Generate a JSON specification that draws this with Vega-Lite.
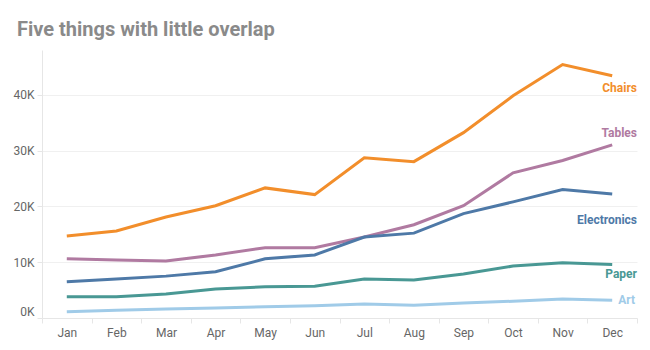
{
  "$schema": "https://vega.github.io/schema/vega-lite/v6.json",
  "width": 595,
  "height": 268,
  "autosize": {"type": "none"},
  "padding": {"left": 42, "top": 50, "right": 13, "bottom": 32},
  "background": "white",
  "config": {
    "font": "Roboto",
    "view": {"stroke": null},
    "axis": {"labelFont": "Roboto", "labelFontSize": 12, "labelColor": "#666666", "title": null, "domainColor": "#e6e6e6", "tickColor": "#e6e6e6", "gridColor": "#f0f0f0"}
  },
  "title": {"text": "Five things with little overlap", "anchor": "start", "dx": 4, "fontSize": 20, "fontWeight": "bold", "color": "#8a8a8a", "font": "Roboto", "offset": 10},
  "data": {"values": [
    {"month": "Jan", "item": "Chairs", "sales": 14700},
    {"month": "Feb", "item": "Chairs", "sales": 15600},
    {"month": "Mar", "item": "Chairs", "sales": 18100},
    {"month": "Apr", "item": "Chairs", "sales": 20100},
    {"month": "May", "item": "Chairs", "sales": 23300},
    {"month": "Jun", "item": "Chairs", "sales": 22100},
    {"month": "Jul", "item": "Chairs", "sales": 28700},
    {"month": "Aug", "item": "Chairs", "sales": 28000},
    {"month": "Sep", "item": "Chairs", "sales": 33200},
    {"month": "Oct", "item": "Chairs", "sales": 39800},
    {"month": "Nov", "item": "Chairs", "sales": 45400},
    {"month": "Dec", "item": "Chairs", "sales": 43400},
    {"month": "Jan", "item": "Tables", "sales": 10600},
    {"month": "Feb", "item": "Tables", "sales": 10400},
    {"month": "Mar", "item": "Tables", "sales": 10200},
    {"month": "Apr", "item": "Tables", "sales": 11300},
    {"month": "May", "item": "Tables", "sales": 12600},
    {"month": "Jun", "item": "Tables", "sales": 12600},
    {"month": "Jul", "item": "Tables", "sales": 14500},
    {"month": "Aug", "item": "Tables", "sales": 16700},
    {"month": "Sep", "item": "Tables", "sales": 20100},
    {"month": "Oct", "item": "Tables", "sales": 26000},
    {"month": "Nov", "item": "Tables", "sales": 28200},
    {"month": "Dec", "item": "Tables", "sales": 31000},
    {"month": "Jan", "item": "Electronics", "sales": 6500},
    {"month": "Feb", "item": "Electronics", "sales": 7000},
    {"month": "Mar", "item": "Electronics", "sales": 7500},
    {"month": "Apr", "item": "Electronics", "sales": 8300},
    {"month": "May", "item": "Electronics", "sales": 10600},
    {"month": "Jun", "item": "Electronics", "sales": 11300},
    {"month": "Jul", "item": "Electronics", "sales": 14500},
    {"month": "Aug", "item": "Electronics", "sales": 15200},
    {"month": "Sep", "item": "Electronics", "sales": 18700},
    {"month": "Oct", "item": "Electronics", "sales": 20800},
    {"month": "Nov", "item": "Electronics", "sales": 23000},
    {"month": "Dec", "item": "Electronics", "sales": 22200},
    {"month": "Jan", "item": "Paper", "sales": 3800},
    {"month": "Feb", "item": "Paper", "sales": 3800},
    {"month": "Mar", "item": "Paper", "sales": 4300},
    {"month": "Apr", "item": "Paper", "sales": 5200},
    {"month": "May", "item": "Paper", "sales": 5600},
    {"month": "Jun", "item": "Paper", "sales": 5700},
    {"month": "Jul", "item": "Paper", "sales": 7000},
    {"month": "Aug", "item": "Paper", "sales": 6800},
    {"month": "Sep", "item": "Paper", "sales": 7900},
    {"month": "Oct", "item": "Paper", "sales": 9300},
    {"month": "Nov", "item": "Paper", "sales": 9900},
    {"month": "Dec", "item": "Paper", "sales": 9600},
    {"month": "Jan", "item": "Art", "sales": 1100},
    {"month": "Feb", "item": "Art", "sales": 1400},
    {"month": "Mar", "item": "Art", "sales": 1600},
    {"month": "Apr", "item": "Art", "sales": 1800},
    {"month": "May", "item": "Art", "sales": 2000},
    {"month": "Jun", "item": "Art", "sales": 2200},
    {"month": "Jul", "item": "Art", "sales": 2500},
    {"month": "Aug", "item": "Art", "sales": 2300},
    {"month": "Sep", "item": "Art", "sales": 2700},
    {"month": "Oct", "item": "Art", "sales": 3000},
    {"month": "Nov", "item": "Art", "sales": 3400},
    {"month": "Dec", "item": "Art", "sales": 3200}
  ]},
  "encoding": {
    "x": {"field": "month", "type": "ordinal", "sort": ["Jan","Feb","Mar","Apr","May","Jun","Jul","Aug","Sep","Oct","Nov","Dec"],
      "scale": {"type": "band", "paddingInner": 0, "paddingOuter": 0},
      "bandPosition": 0.5,
      "axis": {"labelAngle": 0, "tickBand": "extent", "grid": false, "tickSize": 5, "labelPadding": 4}},
    "y": {"field": "sales", "type": "quantitative",
      "scale": {"domain": [0, 48000], "nice": false},
      "axis": {"values": [0, 10000, 20000, 30000, 40000], "labelExpr": "datum.value / 1000 + 'K'", "labelFlush": true, "tickSize": 5, "grid": true, "labelPadding": 3}},
    "color": {"field": "item", "type": "nominal",
      "scale": {"domain": ["Chairs","Tables","Electronics","Paper","Art"], "range": ["#f28e2b","#b07aa1","#4e79a7","#499894","#a0cbe8"]},
      "legend": null}
  },
  "layer": [
    {"mark": {"type": "line", "strokeWidth": 3}},
    {"transform": [{"filter": "datum.month == 'Dec' && datum.item == 'Chairs'"}], "mark": {"type": "text", "align": "right", "dy": 12, "fontWeight": "bold", "fontSize": 12}, "encoding": {"x": {"field": "month", "type": "ordinal", "sort": ["Jan","Feb","Mar","Apr","May","Jun","Jul","Aug","Sep","Oct","Nov","Dec"], "bandPosition": 1}, "text": {"field": "item"}}},
    {"transform": [{"filter": "datum.month == 'Dec' && datum.item == 'Tables'"}], "mark": {"type": "text", "align": "right", "dy": -12, "fontWeight": "bold", "fontSize": 12}, "encoding": {"x": {"field": "month", "type": "ordinal", "sort": ["Jan","Feb","Mar","Apr","May","Jun","Jul","Aug","Sep","Oct","Nov","Dec"], "bandPosition": 1}, "text": {"field": "item"}}},
    {"transform": [{"filter": "datum.month == 'Dec' && datum.item == 'Electronics'"}], "mark": {"type": "text", "align": "right", "dy": 26, "fontWeight": "bold", "fontSize": 12}, "encoding": {"x": {"field": "month", "type": "ordinal", "sort": ["Jan","Feb","Mar","Apr","May","Jun","Jul","Aug","Sep","Oct","Nov","Dec"], "bandPosition": 1}, "text": {"field": "item"}}},
    {"transform": [{"filter": "datum.month == 'Dec' && datum.item == 'Paper'"}], "mark": {"type": "text", "align": "right", "dy": 10, "fontWeight": "bold", "fontSize": 12}, "encoding": {"x": {"field": "month", "type": "ordinal", "sort": ["Jan","Feb","Mar","Apr","May","Jun","Jul","Aug","Sep","Oct","Nov","Dec"], "bandPosition": 1}, "text": {"field": "item"}}},
    {"transform": [{"filter": "datum.month == 'Dec' && datum.item == 'Art'"}], "mark": {"type": "text", "align": "right", "dy": 0, "dx": -2, "fontWeight": "bold", "fontSize": 12}, "encoding": {"x": {"field": "month", "type": "ordinal", "sort": ["Jan","Feb","Mar","Apr","May","Jun","Jul","Aug","Sep","Oct","Nov","Dec"], "bandPosition": 1}, "text": {"field": "item"}}}
  ]
}
